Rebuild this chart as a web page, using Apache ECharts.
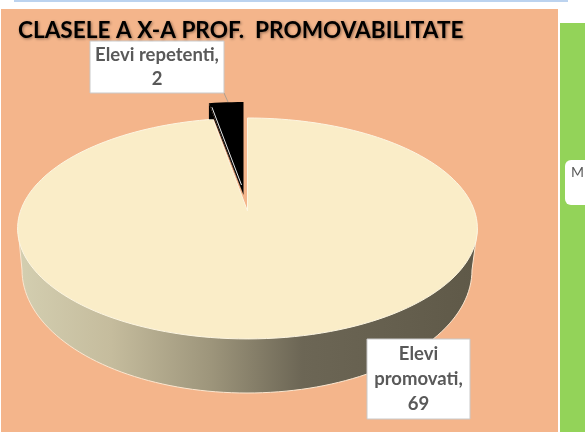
<!DOCTYPE html>
<html>
<head>
<meta charset="utf-8">
<style>html,body{margin:0;padding:0;background:#fff}#c{width:585px;height:432px}</style>
<script src="https://cdn.jsdelivr.net/npm/echarts@6/dist/echarts.min.js"></script>
</head>
<body>
<div id="c"></div>
<script>
var titleText = 'CLASELE A X-A PROF.  PROMOVABILITATE';
var categories = ['Elevi promovati', 'Elevi repetenti'];
var values = [69, 2];
var labelTexts = ['Elevi\npromovati,\n69', 'Elevi repetenti,\n2'];

var total = values.reduce(function (a, b) { return a + b; }, 0);
var P = { cx: 247.5, ay: 211, k: 0.158, B: 227, A: 107.7 };
function pt(deg, dx, dy) {
  var t = deg * Math.PI / 180, u = Math.sin(t), v = Math.cos(t), w = 1 + P.k * v;
  return [P.cx + P.B * u / w + (dx || 0), P.ay - P.A * v / w + (dy || 0)];
}
function arc(a0, a1, dx, dy) {
  var pts = [], n = Math.max(2, Math.ceil(Math.abs(a1 - a0) / 2));
  for (var i = 0; i <= n; i++) pts.push(pt(a0 + (a1 - a0) * i / n, dx, dy));
  return pts;
}
function wall() {
  var pts = [], c = [247, 270], rx = 225, ry = 123;
  for (var i = 0; i <= 90; i++) {
    var t = i * 2 * Math.PI / 180;
    pts.push([c[0] + rx * Math.cos(t), c[1] + ry * Math.sin(t)]);
  }
  pts.push([18, 229], [477.5, 229]);
  return pts;
}
var labelBoxes = [
  { x: 367, y: 339, w: 103, h: 80, leader: null },
  { x: 90, y: 41, w: 134, h: 52, leader: [[224, 93], [228, 102]] }
];
function labelEl(i) {
  var b = labelBoxes[i], els = [];
  if (b.leader) els.push({ type: 'polyline', shape: { points: b.leader }, style: { stroke: '#b0a090', lineWidth: 1, fill: null } });
  els.push({ type: 'rect', shape: { x: b.x, y: b.y, width: b.w, height: b.h },
    style: { fill: '#fff', stroke: '#c9c9c9', lineWidth: 1 } });
  els.push({ type: 'text', x: b.x + b.w / 2, y: b.y + b.h / 2,
    style: { text: labelTexts[i], fill: '#595959', align: 'center', verticalAlign: 'middle',
      font: 'bold 18.5px Lato', lineHeight: i === 0 ? 25 : 24 } });
  return els;
}
function renderItem(params, api) {
  var i = params.dataIndex, before = 0;
  for (var j = 0; j < i; j++) before += values[j];
  var a0 = before / total * 360, a1 = (before + api.value(1)) / total * 360;
  var children = [];
  if (i === 0) {
    children.push({ type: 'polygon', shape: { points: wall() }, style: {
      fill: new echarts.graphic.LinearGradient(20, 0, 475, 0, [
        { offset: 0, color: '#d3ceb0' }, { offset: 0.2, color: '#c5bc9d' },
        { offset: 0.42, color: '#9d957b' }, { offset: 0.62, color: '#6c6655' },
        { offset: 1, color: '#5f5948' }], true),
      stroke: '#fbe6cf', lineWidth: 1 } });
    children.push({ type: 'polygon', shape: { points: [pt(a0)].concat(arc(a0, a1)).concat([[P.cx, P.ay]]) },
      style: { fill: '#faedc8', stroke: '#fdf6e2', lineWidth: 1 } });
  } else {
    var dx = -4, dy = -16, apex = [P.cx + dx, P.ay + dy], pts = arc(a0, a1, dx, dy);
    var L = pts[0];
    children.push({ type: 'polygon', shape: { points: [L, [L[0], L[1] + 16], [L[0] + 5, L[1] + 16], apex] }, style: { fill: '#000' } });
    children.push({ type: 'polygon', shape: { points: pts.concat([apex]) }, style: { fill: '#000' } });
    children.push({ type: 'line', shape: { x1: L[0] + 3, y1: L[1] + 4, x2: apex[0] - 2, y2: apex[1] - 10 },
      style: { stroke: '#e8e8e8', lineWidth: 1 } });
  }
  return { type: 'group', children: children };
}
function renderLabels(params) {
  return { type: 'group', children: labelEl(params.dataIndex) };
}
var chart = echarts.init(document.getElementById('c'), null, { renderer: 'canvas' });
chart.setOption({
  animation: false,
  backgroundColor: '#fff',
  graphic: { elements: [
    { type: 'rect', z: -10, shape: { x: 14, y: 0, width: 554, height: 2 }, style: { fill: '#bcd3ef' } },
    { type: 'rect', z: -10, shape: { x: 1, y: 9, width: 557, height: 423 }, style: { fill: '#f4b58b' } },
    { type: 'rect', z: -10, shape: { x: 560, y: 23, width: 25, height: 409 }, style: { fill: '#93d359' } },
    { type: 'rect', z: -9, shape: { x: 565, y: 160, width: 30, height: 45, r: 6 }, style: { fill: '#fff' } },
    { type: 'text', z: -8, x: 571, y: 165, style: { text: 'M', fill: '#595959', font: '14px Lato' } }
  ] },
  title: { text: titleText, left: 13, top: 14,
    textStyle: { fontFamily: 'Lato', fontWeight: 'bold', fontSize: 22.6, color: '#000',
      textShadowColor: 'rgba(60,40,30,0.55)', textShadowBlur: 3, textShadowOffsetX: 1, textShadowOffsetY: 1 } },
  series: [
    { type: 'custom', coordinateSystem: 'none', renderItem: renderItem, silent: true, z: 2,
      data: categories.map(function (n, i) { return { name: n, value: [i, values[i]] }; }) },
    { type: 'custom', coordinateSystem: 'none', renderItem: renderLabels, silent: true, z: 3,
      data: categories.map(function (n, i) { return { name: n, value: [i, values[i]] }; }) }
  ]
});
</script>
</body>
</html>
